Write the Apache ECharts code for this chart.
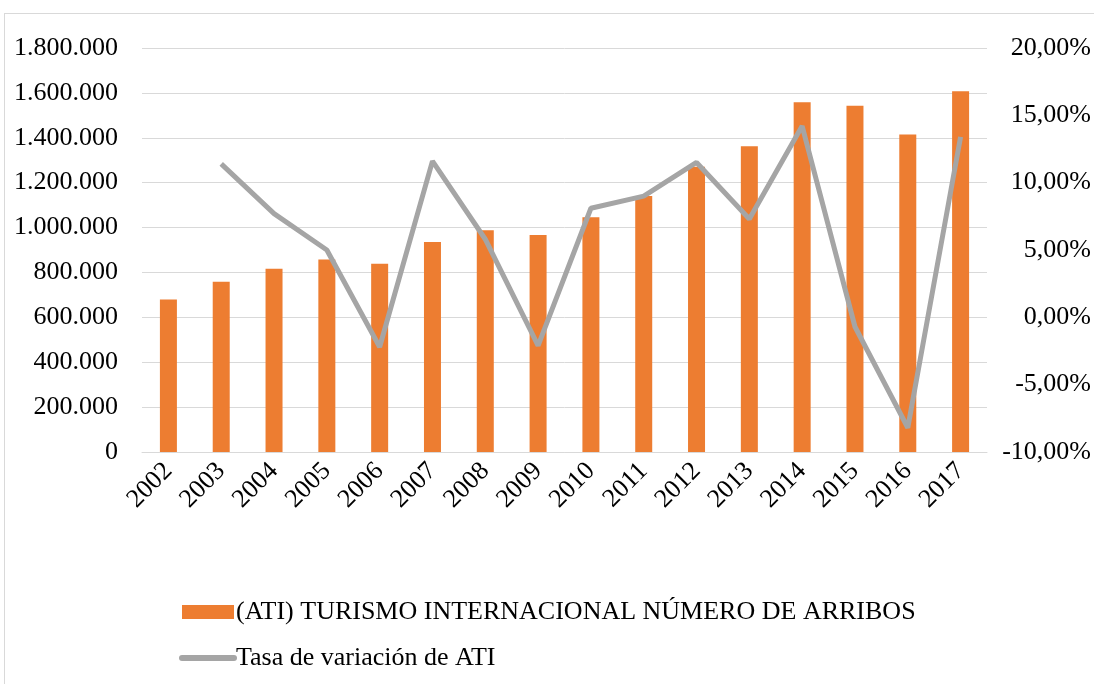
<!DOCTYPE html>
<html>
<head>
<meta charset="utf-8">
<script src="https://cdn.jsdelivr.net/npm/echarts@6/dist/echarts.min.js"></script>
<style>
  html, body { margin: 0; padding: 0; background: #fff; }
  #frame { position: absolute; left: 4px; top: 13px; width: 1200px; height: 800px; border: 1px solid #d9d9d9; }
  #main { position: absolute; left: 0; top: 0; width: 1094px; height: 684px; }
</style>
</head>
<body>
<div id="frame"></div>
<div id="main"></div>
<script>
let years = ['2002', '2003', '2004', '2005', '2006', '2007', '2008', '2009',
    '2010', '2011', '2012', '2013', '2014', '2015', '2016', '2017'];
let arribos = [680000, 759000, 817000, 858000, 839000, 936000, 988000, 967000,
    1046000, 1141000, 1271000, 1362000, 1558000, 1543000, 1415000, 1607000];
// tasa de variación en %, 2002 sin dato
let tasa = [null, 11.4, 7.7, 5.0, -2.2, 11.6, 5.8, -2.1,
    8.1, 9.0, 11.5, 7.3, 14.2, -0.7, -8.2, 13.4];

let serieBarras = '(ATI) TURISMO INTERNACIONAL NÚMERO DE ARRIBOS';
let serieLinea = 'Tasa de variación de ATI';

let fuente = "'Liberation Serif', 'Times New Roman', serif";

let chartDom = document.getElementById('main');
let myChart = echarts.init(chartDom);

function miles(v) {
    return String(v).replace(/\B(?=(\d{3})+(?!\d))/g, '.');
}

let option = {
    animation: false,
    textStyle: { fontFamily: fuente },
    grid: { left: 142, right: 107, top: 48, bottom: 232 },
    legend: {
        orient: 'vertical',
        left: 174,
        top: 594,
        itemWidth: 52,
        itemHeight: 14,
        itemGap: 20,
        textStyle: { fontFamily: fuente, fontSize: 26, color: '#000', padding: [0, 0, 0, -3] },
        data: [
            { name: serieBarras, icon: 'rect' },
            { name: serieLinea, itemStyle: { opacity: 0 }, lineStyle: { width: 6, cap: 'round' } }
        ]
    },
    xAxis: {
        type: 'category',
        data: years,
        axisLine: { lineStyle: { color: '#d9d9d9', width: 1 } },
        axisTick: { show: false },
        axisLabel: { rotate: 45, margin: 15, fontSize: 26, color: '#000', fontFamily: fuente }
    },
    yAxis: [
        {
            type: 'value',
            min: 0,
            max: 1800000,
            interval: 200000,
            axisLine: { show: false },
            axisTick: { show: false },
            splitLine: { lineStyle: { color: '#d9d9d9', width: 1 } },
            axisLabel: { fontSize: 26, color: '#000', margin: 24, fontFamily: fuente, formatter: miles }
        },
        {
            type: 'value',
            min: -10,
            max: 20,
            interval: 5,
            axisLine: { show: false },
            axisTick: { show: false },
            splitLine: { show: false },
            axisLabel: {
                fontSize: 26, color: '#000', align: 'right', margin: 104, fontFamily: fuente,
                formatter: function (v) { return v.toFixed(2).replace('.', ',') + '%'; }
            }
        }
    ],
    series: [
        {
            name: serieBarras,
            type: 'bar',
            barWidth: 17,
            itemStyle: { color: '#ED7D31' },
            data: arribos
        },
        {
            name: serieLinea,
            type: 'line',
            yAxisIndex: 1,
            symbol: 'none',
            lineStyle: { color: '#A5A5A5', width: 5 },
            itemStyle: { color: '#A5A5A5' },
            data: tasa
        }
    ]
};

myChart.setOption(option);
</script>
</body>
</html>
